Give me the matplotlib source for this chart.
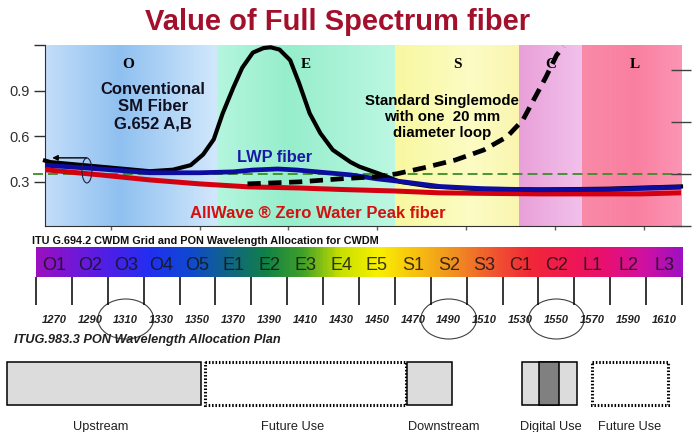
import numpy as np
import matplotlib
matplotlib.use('Agg')
import matplotlib.pyplot as plt
from matplotlib.colors import LinearSegmentedColormap
from matplotlib.patches import Ellipse, Rectangle

plt.rcParams['font.family'] = ['Liberation Sans', 'DejaVu Sans']

# attenuation (dB/km) vs wavelength (nm)
black_wl = [1263, 1266, 1294, 1322, 1335, 1345, 1352, 1358, 1363, 1369, 1374, 1380,
            1386, 1390, 1395, 1401, 1406, 1412, 1418, 1425, 1435, 1440, 1452, 1463,
            1480, 1504, 1542, 1579, 1621]
black_att = [0.44, 0.43, 0.40, 0.37, 0.38, 0.41, 0.48, 0.58, 0.75, 0.92, 1.05, 1.15,
             1.18, 1.185, 1.17, 1.10, 0.95, 0.75, 0.62, 0.51, 0.43, 0.40, 0.35, 0.30,
             0.27, 0.255, 0.25, 0.255, 0.27]

blue_wl = [1263, 1294, 1322, 1350, 1369, 1380, 1394, 1405, 1416, 1435, 1450, 1465,
           1485, 1510, 1540, 1580, 1621]
blue_att = [0.41, 0.385, 0.36, 0.36, 0.366, 0.378, 0.385, 0.378, 0.366, 0.346, 0.32,
            0.30, 0.27, 0.255, 0.248, 0.25, 0.265]

red_wl = [1263, 1294, 1322, 1350, 1378, 1406, 1430, 1460, 1485, 1515, 1542, 1570, 1598, 1621]
red_att = [0.38, 0.346, 0.313, 0.287, 0.267, 0.26, 0.25, 0.24, 0.228, 0.224, 0.221,
           0.221, 0.221, 0.228]

bend_wl = [1377, 1406, 1429, 1448, 1461, 1476, 1494, 1510, 1523, 1532, 1538, 1545, 1551, 1555]
bend_att = [0.287, 0.30, 0.32, 0.333, 0.353, 0.392, 0.444, 0.51, 0.596, 0.707, 0.838,
            0.99, 1.134, 1.19]

ref_att = 0.35

bands = ['O', 'E', 'S', 'C', 'L']
band_edges = [1260, 1360, 1460, 1530, 1565, 1625]

cwdm_labels = ['O1', 'O2', 'O3', 'O4', 'O5', 'E1', 'E2', 'E3', 'E4', 'E5',
               'S1', 'S2', 'S3', 'C1', 'C2', 'L1', 'L2', 'L3']
cwdm_centers = list(range(1270, 1611, 20))
pon_circled = [1310, 1490, 1550]

alloc_names = ['Upstream', 'Future Use', 'Downstream', 'Digital Use', 'Future Use']
alloc_start = [1244, 1354, 1467, 1531, 1570]
alloc_end = [1352, 1466, 1492, 1561.5, 1612]
alloc_label_x = [1296, 1403, 1487, 1547, 1591]
alloc_kind = ['solid', 'dotted', 'solid', 'digital', 'dotted']
digital_core = [1540.3, 1551.5]

# background gradients for the bands
band_grads = [
    [(0, '#c6e0fa'), (0.45, '#8fc0f0'), (1, '#d2e8fc')],
    [(0, '#b4f6de'), (0.4, '#96eecb'), (1, '#bcf7e2')],
    [(0, '#f8f8a0'), (0.6, '#fcfcc4'), (1, '#faf6b0')],
    [(0, '#e8a0d8'), (1, '#f2c0ec')],
    [(0, '#f88aa8'), (0.5, '#fa7fa0'), (1, '#fc98b8')],
]
cwdm_colors = ['#9a10c0', '#7018d8', '#4820e8', '#2030f0', '#1048d0', '#106488',
               '#108048', '#40a028', '#c8e000', '#f8f000', '#f8c010', '#f09020',
               '#f05830', '#f02838', '#f01850', '#e81070', '#d010a0', '#a010c0']

W, H = 696, 432
fig = plt.figure(figsize=(W / 100, H / 100), dpi=100)


def frac(x0, y0, x1, y1):
    return [x0 / W, 1 - y1 / H, (x1 - x0) / W, (y1 - y0) / H]


# ---- spectrum chart ----
ax = fig.add_axes(frac(45, 45, 681, 226))
ylo, yhi = 0.01, 1.2
for name, x0, x1, stops in zip(bands, band_edges[:-1], band_edges[1:], band_grads):
    cm = LinearSegmentedColormap.from_list('band_' + name, stops)
    ax.imshow(np.linspace(0, 1, 128)[None, :], extent=(x0, x1, ylo, yhi), aspect='auto',
              cmap=cm, interpolation='bilinear', zorder=0)
    ax.text((x0 + x1) / 2, 1.047, name, family='Liberation Serif', weight='bold',
            fontsize=11, ha='center', va='baseline')

ax.plot([1256, 1621], [ref_att, ref_att], color='#3c8c28', lw=1.3,
        ls=(0, (5.5, 2.8)), clip_on=False, zorder=2.5)
ax.plot(red_wl, red_att, color='#d40010', lw=3.6, zorder=3)
ax.plot(black_wl, black_att, color='black', lw=3.0, clip_on=False, zorder=3)
ax.plot(blue_wl, blue_att, color='#0c0ca0', lw=3.4, zorder=3)
ax.plot(bend_wl, bend_att, color='black', lw=3.4, ls=(0, (2.8, 1.6)), zorder=4)

ax.annotate('', xy=(1265.5, 0.458), xytext=(1288, 0.458),
            arrowprops=dict(arrowstyle='-|>', lw=1.0, color='black', mutation_scale=8))
ax.add_patch(Ellipse((1286.6, 0.375), 5.6, 0.164, fill=False, ec='#202040', lw=0.8, zorder=5))

# multi-line texts: baseline of the last line
ax.text(1323.8, 0.653, 'Conventional\nSM Fiber\nG.652 A,B', ha='center', va='baseline',
        fontsize=12, weight='bold', color='#101020', linespacing=1.17)
ax.text(1486.5, 0.597, 'Standard Singlemode\nwith one  20 mm\ndiameter loop', ha='center',
        va='baseline', fontsize=10.8, weight='bold', color='black', linespacing=1.17)
ax.text(1392.5, 0.429, 'LWP fiber', ha='center', va='baseline', fontsize=11.8,
        weight='bold', color='#1a1aa8')
ax.text(1416.7, 0.062, 'AllWave \u00ae Zero Water Peak fiber', ha='center', va='baseline',
        fontsize=12, weight='bold', color='#d41010')

ax.set_xlim(1263, 1621)
ax.set_ylim(ylo, yhi)
ax.set_yticks([0.3, 0.6, 0.9, 1.2])
ax.set_yticklabels(['0.3', '0.6', '0.9', ''])
ax.set_xticks(range(1300, 1601, 50))
ax.set_xticklabels([])
ax.tick_params(axis='y', direction='out', length=8, width=1, colors='#303030',
               labelsize=10.5, pad=3)
ax.tick_params(axis='x', direction='out', length=3, width=1, colors='#606060')
for s in ['top', 'right']:
    ax.spines[s].set_visible(False)
ax.spines['left'].set_color('#303030')
ax.spines['bottom'].set_color('#303030')

ax2 = ax.twinx()
ax2.set_ylim(0, 3.48)
ax2.set_yticks([0, 1, 2, 3])
ax2.set_yticklabels([])
ax2.tick_params(axis='y', direction='inout', length=14, width=1, colors='#404040')
for s in ax2.spines.values():
    s.set_visible(False)

fig.text(338 / W, 1 - 30 / H, 'Value of Full Spectrum fiber', ha='center', va='baseline',
         fontsize=21, weight='bold', color='#a3102c')

# ---- CWDM grid and PON plan ----
axb = fig.add_axes([0, 0, 1, 204 / H])
axb.set_xlim(1239.94, 1627.8)
axb.set_ylim(432, 228)
axb.axis('off')

axb.text(1257.8, 244, 'ITU G.694.2 CWDM Grid and PON Wavelength Allocation for CWDM',
         fontsize=7.8, weight='bold', ha='left', va='baseline', color='#101010')

strip_cm = LinearSegmentedColormap.from_list('cwdm', cwdm_colors)
axb.imshow(np.linspace(0, 1, 360)[None, :], extent=(1260, 1620, 277, 247), aspect='auto',
           cmap=strip_cm, interpolation='bilinear')
for lab, c in zip(cwdm_labels, cwdm_centers):
    axb.text(c, 270, lab, fontsize=13, ha='center', va='baseline', color='#151515', alpha=0.85)
    axb.text(c, 323, str(c), fontsize=8, style='italic', weight='bold', ha='center',
             va='baseline', color='#202020')
axb.vlines(np.arange(1260, 1621, 20), 277, 305, color='black', lw=1.1)
for c in pon_circled:
    axb.add_patch(Ellipse((c, 319), 31, 40, fill=False, ec='#404040', lw=0.8))

axb.text(1247.7, 343, 'ITUG.983.3 PON Wavelength Allocation Plan', fontsize=9.2,
         style='italic', weight='bold', ha='left', va='baseline', color='#202020')

for name, s, e, lx, kind in zip(alloc_names, alloc_start, alloc_end, alloc_label_x, alloc_kind):
    if kind == 'dotted':
        axb.add_patch(Rectangle((s, 362), e - s, 43, fc='white', ec='black', lw=2.2,
                                ls=(0, (0.5, 0.6))))
    else:
        axb.add_patch(Rectangle((s, 362), e - s, 43, fc='#dcdcdc', ec='black', lw=1.1))
    if kind == 'digital':
        axb.add_patch(Rectangle((digital_core[0], 362), digital_core[1] - digital_core[0], 43,
                                fc='#808080', ec='black', lw=1.1))
    axb.text(lx, 430, name, fontsize=9.2, ha='center', va='baseline', color='#202020')

fig.savefig('out.png', dpi=100)
